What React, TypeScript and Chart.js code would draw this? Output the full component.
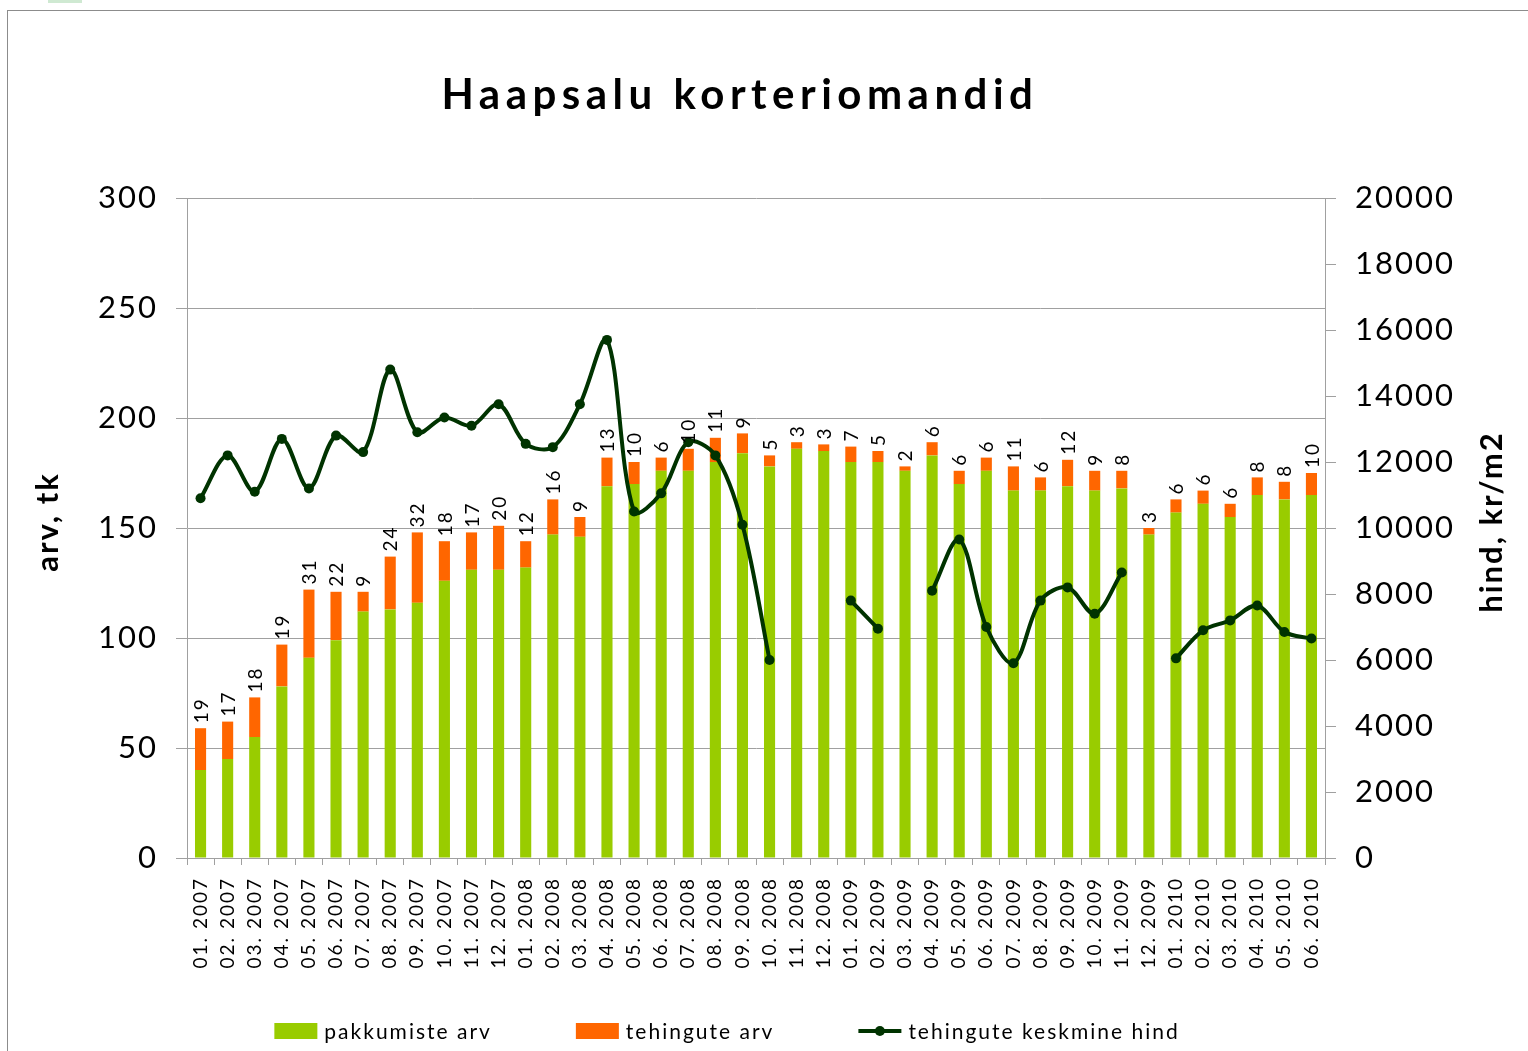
import React, { useEffect, useRef } from "react";
import { Chart, registerables } from "chart.js";

Chart.register(...registerables);

// ---------- DATA ----------
const categories = [
  "01. 2007", "02. 2007", "03. 2007", "04. 2007", "05. 2007", "06. 2007",
  "07. 2007", "08. 2007", "09. 2007", "10. 2007", "11. 2007", "12. 2007",
  "01. 2008", "02. 2008", "03. 2008", "04. 2008", "05. 2008", "06. 2008",
  "07. 2008", "08. 2008", "09. 2008", "10. 2008", "11. 2008", "12. 2008",
  "01. 2009", "02. 2009", "03. 2009", "04. 2009", "05. 2009", "06. 2009",
  "07. 2009", "08. 2009", "09. 2009", "10. 2009", "11. 2009", "12. 2009",
  "01. 2010", "02. 2010", "03. 2010", "04. 2010", "05. 2010", "06. 2010",
];

// pakkumiste arv (green)
const offers = [
  40, 45, 55, 78, 91, 99, 112, 113, 116, 126, 131, 131,
  132, 147, 146, 169, 170, 176, 176, 180, 184, 178, 186, 185,
  180, 180, 176, 183, 170, 176, 167, 167, 169, 167, 168, 147,
  157, 161, 155, 165, 163, 165,
];

// tehingute arv (orange)
const deals = [
  19, 17, 18, 19, 31, 22, 9, 24, 32, 18, 17, 20,
  12, 16, 9, 13, 10, 6, 10, 11, 9, 5, 3, 3,
  7, 5, 2, 6, 6, 6, 11, 6, 12, 9, 8, 3,
  6, 6, 6, 8, 8, 10,
];

// tehingute keskmine hind (line, right axis)
const avgPrice: (number | null)[] = [
  10900, 12200, 11100, 12700, 11200, 12800, 12300, 14800, 12900, 13350, 13100, 13750,
  12550, 12450, 13750, 15700, 10500, 11050, 12600, 12200, 10100, 6000, null, null,
  7800, 6950, null, 8100, 9650, 7000, 5900, 7800, 8200, 7400, 8650, null,
  6050, 6900, 7200, 7650, 6850, 6650,
];

const seriesNames = ["pakkumiste arv", "tehingute arv", "tehingute keskmine hind"];
const leftAxisRange = [0, 300, 50]; // min, max, step
const rightAxisRange = [0, 20000, 2000];
const titleText = "Haapsalu korteriomandid";
const leftAxisTitle = "arv, tk";
const rightAxisTitle = "hind, kr/m2";

// ---------- STYLE ----------
const GREEN = "#99cc00";
const ORANGE = "#ff6600";
const LINE = "#003300";
const GRID = "#a0a0a0";
const FONT = "Lato";
const SPACING = "2px";

const decorPlugin = {
  id: "decor",
  beforeUpdate(c: any) {
    c.ctx.letterSpacing = SPACING;
  },
  beforeDraw(c: any) {
    const ctx = c.ctx;
    ctx.save();
    ctx.fillStyle = "#ffffff";
    ctx.fillRect(0, 0, c.width, c.height);
    ctx.fillStyle = "#cfe9d2";
    ctx.fillRect(48, 0, 34, 3);
    ctx.strokeStyle = "#8c8c8c";
    ctx.lineWidth = 1;
    ctx.strokeRect(7.5, 10.5, c.width + 40, c.height + 40);
    ctx.restore();
    ctx.letterSpacing = SPACING;
  },
  afterDatasetsDraw(c: any) {
    const ctx = c.ctx;
    const meta = c.getDatasetMeta(2);
    ctx.save();
    ctx.letterSpacing = SPACING;
    ctx.font = `19px ${FONT}`;
    ctx.fillStyle = "#000";
    ctx.textAlign = "left";
    ctx.textBaseline = "middle";
    meta.data.forEach((bar: any, i: number) => {
      ctx.save();
      ctx.translate(bar.x + 1, bar.y - 5);
      ctx.rotate(-Math.PI / 2);
      ctx.fillText(String(deals[i]), 0, 0);
      ctx.restore();
    });
    ctx.restore();
  },
  afterDraw(c: any) {
    const ctx = c.ctx;
    const area = c.chartArea;
    ctx.save();
    // Title
    ctx.letterSpacing = "5.5px";
    ctx.font = `bold 42px ${FONT}`;
    ctx.fillStyle = "#000";
    ctx.textAlign = "center";
    ctx.textBaseline = "middle";
    ctx.fillText(titleText, 740, area.top - 103);

    // Axis titles
    ctx.letterSpacing = "2px";
    ctx.font = `bold 31px ${FONT}`;
    const midY = (area.top + area.bottom) / 2 - 6;
    ctx.save();
    ctx.translate(48, midY);
    ctx.rotate(-Math.PI / 2);
    ctx.fillText(leftAxisTitle, 0, 0);
    ctx.restore();
    ctx.save();
    ctx.translate(1492, midY);
    ctx.rotate(-Math.PI / 2);
    ctx.fillText(rightAxisTitle, 0, 0);
    ctx.restore();

    // Legend
    ctx.font = `21px ${FONT}`;
    ctx.letterSpacing = "2px";
    ctx.textAlign = "left";
    const symW = 43;
    const symGap = 7;
    const itemGap = 84;
    const items = [
      { text: seriesNames[0], kind: "box", color: GREEN },
      { text: seriesNames[1], kind: "box", color: ORANGE },
      { text: seriesNames[2], kind: "line", color: LINE },
    ];
    const widths = items.map((it) => symW + symGap + ctx.measureText(it.text).width);
    const total = widths.reduce((a, b) => a + b, 0) + itemGap * (items.length - 1);
    let x = 727 - total / 2;
    const ly = 1031;
    items.forEach((it, i) => {
      if (it.kind === "box") {
        ctx.fillStyle = it.color;
        ctx.fillRect(x, ly - 8, symW, 16);
      } else {
        ctx.strokeStyle = it.color;
        ctx.lineWidth = 4;
        ctx.beginPath();
        ctx.moveTo(x, ly);
        ctx.lineTo(x + symW, ly);
        ctx.stroke();
        ctx.fillStyle = it.color;
        ctx.beginPath();
        ctx.arc(x + symW / 2, ly, 5, 0, Math.PI * 2);
        ctx.fill();
      }
      ctx.fillStyle = "#000";
      ctx.fillText(it.text, x + symW + symGap, ly + 1);
      x += widths[i] + itemGap;
    });
    ctx.restore();
    ctx.letterSpacing = SPACING;
  },
};

export default function App() {
  const ref = useRef<HTMLCanvasElement>(null);

  useEffect(() => {
    const canvas = ref.current;
    if (!canvas) return;
    Chart.defaults.font.family = FONT;
    const chart = new Chart(canvas, {
      type: "bar",
      data: {
        labels: categories,
        datasets: [
          {
            type: "line",
            label: seriesNames[2],
            data: avgPrice,
            yAxisID: "y1",
            borderColor: LINE,
            backgroundColor: LINE,
            borderWidth: 4,
            pointRadius: 5,
            pointBackgroundColor: LINE,
            pointBorderColor: LINE,
            pointBorderWidth: 0,
            tension: 0.33,
            spanGaps: false,
            order: 0,
          } as any,
          {
            label: seriesNames[0],
            data: offers,
            backgroundColor: GREEN,
            yAxisID: "y",
            order: 1,
            barPercentage: 0.41,
            categoryPercentage: 1,
          },
          {
            label: seriesNames[1],
            data: deals,
            backgroundColor: ORANGE,
            yAxisID: "y",
            order: 2,
            barPercentage: 0.41,
            categoryPercentage: 1,
          },
        ],
      },
      options: {
        animation: false,
        responsive: false,
        devicePixelRatio: 1,
        layout: { padding: { top: 198, left: 0, right: 0, bottom: 0 } },
        plugins: {
          legend: { display: false },
          title: { display: false },
          tooltip: { enabled: false },
        },
        scales: {
          x: {
            stacked: true,
            grid: {
              display: true,
              drawOnChartArea: false,
              drawTicks: true,
              tickLength: 7,
              color: GRID,
              offset: true,
            },
            border: { color: GRID, width: 1 },
            ticks: {
              font: { family: FONT, size: 19 },
              color: "#000",
              minRotation: 90,
              maxRotation: 90,
              autoSkip: false,
              padding: 12,
            },
            afterFit: (s: any) => {
              s.height = 193;
            },
          },
          y: {
            stacked: true,
            position: "left",
            min: leftAxisRange[0],
            max: leftAxisRange[1],
            ticks: {
              stepSize: leftAxisRange[2],
              font: { family: FONT, size: 31 },
              color: "#000",
              padding: 18,
              callback: (v: any) => String(v),
            },
            grid: { color: GRID, tickLength: 11 },
            border: { color: GRID },
            afterFit: (s: any) => {
              s.width = 187;
            },
          },
          y1: {
            stacked: false,
            position: "right",
            min: rightAxisRange[0],
            max: rightAxisRange[1],
            ticks: {
              stepSize: rightAxisRange[2],
              font: { family: FONT, size: 31 },
              color: "#000",
              padding: 19,
              callback: (v: any) => String(v),
            },
            grid: { drawOnChartArea: false, color: GRID, tickLength: 11 },
            border: { color: GRID },
            afterFit: (s: any) => {
              s.width = 203;
            },
          },
        },
      },
      plugins: [decorPlugin],
    });
    return () => chart.destroy();
  }, []);

  return (
    <div style={{ position: "absolute", left: 0, top: 0, width: 1528, height: 1051 }}>
      <canvas ref={ref} width={1528} height={1051} />
    </div>
  );
}
